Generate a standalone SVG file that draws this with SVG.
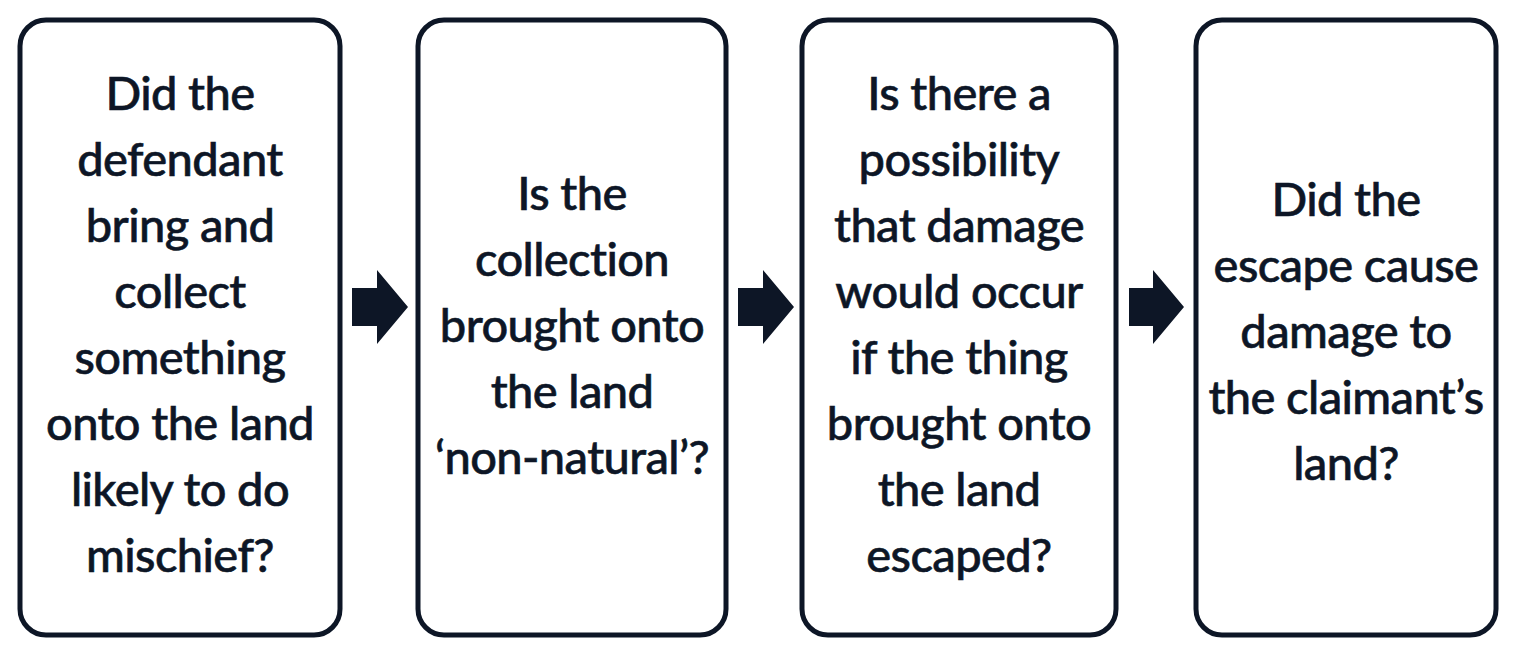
<svg xmlns="http://www.w3.org/2000/svg" width="1517" height="655" viewBox="0 0 1517 655">
<style>
.box{fill:#ffffff;stroke:#0d1626;stroke-width:5}
.t{font-family:Lato,"Liberation Sans",sans-serif;font-size:47px;font-weight:500;letter-spacing:-0.6px;font-variant-ligatures:none;fill:#0d1626;stroke:#0d1626;stroke-width:0.6;text-anchor:middle}
.arr{fill:#0d1626}
</style>
<rect x="0" y="0" width="1517" height="655" fill="#ffffff"/>
<g id="node1">
<rect class="box" x="20" y="20" width="320" height="615" rx="26"/>
<text class="t"><tspan x="180" y="110">Did the</tspan><tspan x="180" y="176">defendant</tspan><tspan x="180" y="242">bring and</tspan><tspan x="180" y="308">collect</tspan><tspan x="180" y="374">something</tspan><tspan x="180" y="440">onto the land</tspan><tspan x="180" y="506">likely to do</tspan><tspan x="180" y="572">mischief?</tspan></text>
</g>
<g id="node2">
<rect class="box" x="418" y="20" width="308" height="615" rx="26"/>
<text class="t"><tspan x="572" y="210">Is the</tspan><tspan x="572" y="276">collection</tspan><tspan x="572" y="342">brought onto</tspan><tspan x="572" y="408">the land</tspan><tspan x="572" y="474">‘non-natural’?</tspan></text>
</g>
<g id="node3">
<rect class="box" x="802" y="20" width="314" height="615" rx="26"/>
<text class="t"><tspan x="959" y="110">Is there a</tspan><tspan x="959" y="176">possibility</tspan><tspan x="959" y="242">that damage</tspan><tspan x="959" y="308">would occur</tspan><tspan x="959" y="374">if the thing</tspan><tspan x="959" y="440">brought onto</tspan><tspan x="959" y="506">the land</tspan><tspan x="959" y="572">escaped?</tspan></text>
</g>
<g id="node4">
<rect class="box" x="1196" y="20" width="300" height="615" rx="26"/>
<text class="t"><tspan x="1346" y="216">Did the</tspan><tspan x="1346" y="282">escape cause</tspan><tspan x="1346" y="348">damage to</tspan><tspan x="1346" y="414">the claimant’s</tspan><tspan x="1346" y="480">land?</tspan></text>
</g>
<g id="connectors">
<path class="arr" d="M352 288 H377 V270 L408 307 L377 344 V326 H352 Z"/>
<path class="arr" d="M738 288 H763 V270 L794 307 L763 344 V326 H738 Z"/>
<path class="arr" d="M1129 288 H1153 V270 L1184 307 L1153 344 V326 H1129 Z"/>
</g>
</svg>
